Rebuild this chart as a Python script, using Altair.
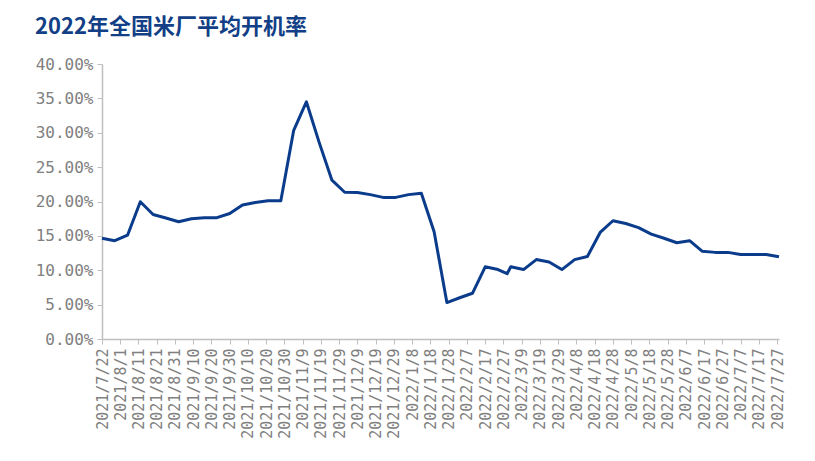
import altair as alt
import pandas as pd

dates = [
    "2021-07-22", "2021-07-29", "2021-08-05", "2021-08-12", "2021-08-19", "2021-08-26",
    "2021-09-02", "2021-09-09", "2021-09-16", "2021-09-23", "2021-09-30", "2021-10-07",
    "2021-10-14", "2021-10-21", "2021-10-28", "2021-11-04", "2021-11-11", "2021-11-18",
    "2021-11-25", "2021-12-02", "2021-12-09", "2021-12-16", "2021-12-23", "2021-12-30",
    "2022-01-06", "2022-01-13", "2022-01-20", "2022-01-27", "2022-02-03", "2022-02-10",
    "2022-02-17", "2022-02-24", "2022-03-01", "2022-03-03", "2022-03-10", "2022-03-17",
    "2022-03-24", "2022-03-31", "2022-04-07", "2022-04-14", "2022-04-21", "2022-04-28",
    "2022-05-05", "2022-05-12", "2022-05-19", "2022-05-26", "2022-06-02", "2022-06-09",
    "2022-06-16", "2022-06-23", "2022-06-30", "2022-07-07", "2022-07-14", "2022-07-21",
    "2022-07-28",
]
rates = [
    14.65, 14.3, 15.1, 19.97, 18.1, 17.6,
    17.05, 17.5, 17.65, 17.65, 18.25, 19.5,
    19.85, 20.1, 20.1, 30.3, 34.5, 28.6,
    23.1, 21.35, 21.3, 21.0, 20.6, 20.6,
    21.0, 21.2, 15.6, 5.3, 6.0, 6.65,
    10.5, 10.1, 9.5, 10.5, 10.1, 11.55,
    11.2, 10.1, 11.55, 12.0, 15.5, 17.2,
    16.8, 16.2, 15.25, 14.65, 14.0, 14.3,
    12.75, 12.6, 12.6, 12.3, 12.3, 12.3,
    11.95,
]
tick_labels = [
    "2021-07-22", "2021-08-01", "2021-08-11", "2021-08-21", "2021-08-31", "2021-09-10",
    "2021-09-20", "2021-09-30", "2021-10-10", "2021-10-20", "2021-10-30", "2021-11-09",
    "2021-11-19", "2021-11-29", "2021-12-09", "2021-12-19", "2021-12-29", "2022-01-08",
    "2022-01-18", "2022-01-28", "2022-02-07", "2022-02-17", "2022-02-27", "2022-03-09",
    "2022-03-19", "2022-03-29", "2022-04-08", "2022-04-18", "2022-04-28", "2022-05-08",
    "2022-05-18", "2022-05-28", "2022-06-07", "2022-06-17", "2022-06-27", "2022-07-07",
    "2022-07-17", "2022-07-27",
]

df = pd.DataFrame({"date": dates, "rate": [r / 100 for r in rates]})

tick_values = [
    alt.DateTime(year=int(s[:4]), month=int(s[5:7]), date=int(s[8:10]), utc=True)
    for s in tick_labels
]

line_color = "#0B3C8C"
axis_gray = "#BFBFBF"
label_gray = "#808080"

chart = (
    alt.Chart(df)
    .mark_line(color=line_color, strokeWidth=3, strokeJoin="round")
    .encode(
        x=alt.X(
            "date:T",
            scale=alt.Scale(
                type="utc",
                domain=[
                    alt.DateTime(year=2021, month=7, date=22, utc=True),
                    alt.DateTime(year=2022, month=7, date=28, utc=True),
                ],
            ),
            axis=alt.Axis(
                title=None,
                values=tick_values,
                labelExpr="utcFormat(datum.value, '%Y/%-m/%-d')",
                labelAngle=270,
                labelFont="DejaVu Sans Mono",
                labelFontSize=15,
                labelColor=label_gray,
                labelPadding=4,
                labelOverlap=False,
                grid=False,
                domainColor=axis_gray,
                domainWidth=1.5,
                tickColor=axis_gray,
                tickSize=5,
            ),
        ),
        y=alt.Y(
            "rate:Q",
            scale=alt.Scale(domain=[0, 0.4], nice=False),
            axis=alt.Axis(
                title=None,
                values=[0, 0.05, 0.1, 0.15, 0.2, 0.25, 0.3, 0.35, 0.4],
                format=".2%",
                labelFont="DejaVu Sans Mono",
                labelFontSize=16,
                labelColor=label_gray,
                labelPadding=4,
                grid=False,
                domainColor=axis_gray,
                domainWidth=1.5,
                tickColor=axis_gray,
                tickSize=5,
            ),
        ),
    )
    .properties(
        width=677,
        height=275,
        autosize=alt.AutoSizeParams(type="none"),
        padding={"left": 94, "top": 56, "right": 28, "bottom": 114},
        title=alt.TitleParams(
            "2022年全国米厂平均开机率",
            anchor="start",
            frame="group",
            dx=-67,
            offset=17,
            font="Noto Sans CJK SC",
            fontSize=22,
            fontWeight="bold",
            color="#123F86",
        ),
    )
    .configure_view(stroke=None)
)

chart.save("out.html", embed_options={"renderer": "svg", "actions": False})
